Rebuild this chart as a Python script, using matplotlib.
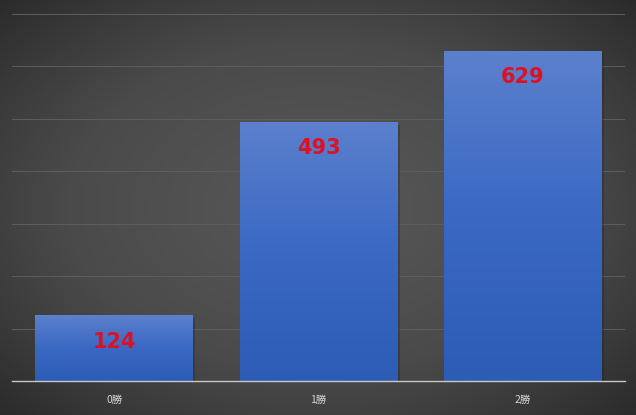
import numpy as np
import matplotlib
matplotlib.use("Agg")
import matplotlib.pyplot as plt
from matplotlib.colors import LinearSegmentedColormap

categories = ["0勝", "1勝", "2勝"]
values = [124, 493, 629]

plt.rcParams['font.family'] = ['Noto Sans CJK JP', 'DejaVu Sans']

fig = plt.figure(figsize=(6.36, 4.15), dpi=100)

# radial gradient background
bg = fig.add_axes([0, 0, 1, 1], zorder=0)
yy, xx = np.mgrid[-1:1:415j, -1:1:636j]
r = np.sqrt(xx ** 2 + yy ** 2) / np.sqrt(2)
bg_cmap = LinearSegmentedColormap.from_list("bg", ["#575757", "#4a4a4a", "#2b2b2b"])
bg.imshow(r ** 1.2, cmap=bg_cmap, aspect="auto", extent=[0, 1, 0, 1], vmin=0, vmax=1)
bg.axis("off")

ax = fig.add_axes([12 / 636, 34 / 415, 613 / 636, 367 / 415], zorder=1)
ax.patch.set_alpha(0)
ax.set_xlim(-0.5, 2.5)
ax.set_ylim(0, 700)
ax.set_yticks(np.arange(0, 701, 100))
ax.yaxis.grid(True, color="#5e5e5e", linewidth=0.7)
ax.set_axisbelow(True)
for s in ["top", "right", "left"]:
    ax.spines[s].set_visible(False)
ax.spines["bottom"].set_color("#c8c8c8")
ax.spines["bottom"].set_linewidth(1)
ax.spines["bottom"].set_zorder(5)
ax.tick_params(axis="y", left=False, labelleft=False)
ax.tick_params(axis="x", bottom=False, colors="#d4d4d4", labelsize=7.5, pad=6.5)
x = np.arange(len(categories))
ax.set_xticks(x)
ax.set_xticklabels(categories)

bar_cmap = LinearSegmentedColormap.from_list("bar", ["#2d5cb5", "#3a68c3", "#5b80cd"])
grad = np.linspace(0, 1, 256).reshape(-1, 1)
width = 0.77
bars = ax.bar(x, values, width=width, color="none", zorder=3)
for b, v in zip(bars, values):
    x0 = b.get_x()
    # soft shadow
    ax.bar(x0 + b.get_width() / 2 + 0.012, v, width=width, bottom=-4,
           color="#1e1e1e", alpha=0.3, zorder=2)
    ax.imshow(grad, cmap=bar_cmap, origin="lower", aspect="auto",
              extent=[x0, x0 + b.get_width(), 0, v], zorder=3)
    ax.annotate(str(v), (b.get_x() + b.get_width() / 2, v),
                xytext=(0, -18.7), textcoords="offset points",
                ha="center", va="center", color="#dc1224",
                fontsize=15, fontweight="bold", family=["DejaVu Sans"], zorder=4)
ax.set_xlim(-0.5, 2.5)
ax.set_ylim(0, 700)

fig.savefig("out.png", dpi=100)
